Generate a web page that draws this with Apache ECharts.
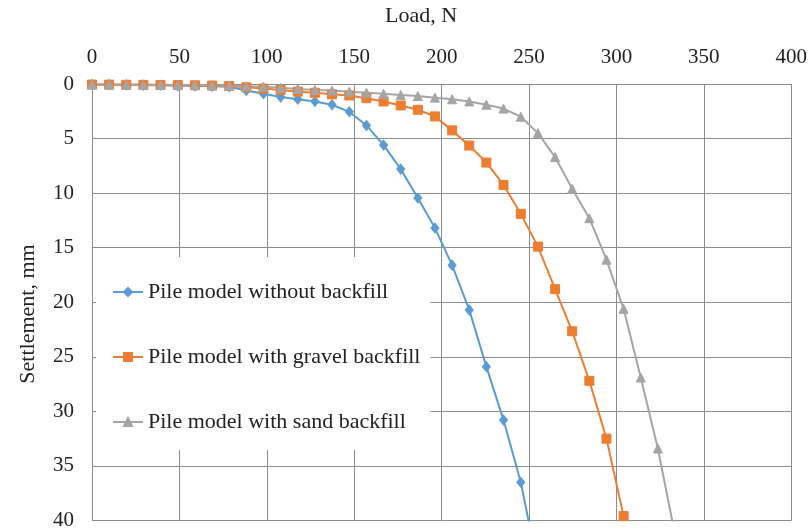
<!DOCTYPE html>
<html>
<head>
<meta charset="utf-8">
<script src="https://cdn.jsdelivr.net/npm/echarts@6/dist/echarts.min.js"></script>
<style>
  html, body { margin: 0; padding: 0; background: #fff; }
  #chart { width: 810px; height: 531px; }
</style>
</head>
<body>
<div id="chart"></div>
<script>
// Applied load at each loading step (N)
const loads = [0, 9.8, 19.6, 29.4, 39.2, 49.1, 58.9, 68.7, 78.5, 88.3, 98.1, 107.9,
  117.7, 127.5, 137.3, 147.2, 157.0, 166.8, 176.6, 186.4, 196.2, 206.0, 215.8,
  225.6, 235.4, 245.3, 255.1, 264.9, 274.7, 284.5, 294.3, 304.1, 313.9, 323.7, 333.5];

// Settlement (mm) measured at each load step
const settlementNoBackfill = [0.05, 0.06, 0.08, 0.1, 0.12, 0.15, 0.18, 0.2, 0.25, 0.6,
  0.9, 1.2, 1.4, 1.6, 1.9, 2.55, 3.8, 5.6, 7.8, 10.45, 13.2, 16.6, 20.7, 25.9, 30.8,
  36.5, 44.3];
const settlementGravel = [0.05, 0.06, 0.07, 0.08, 0.09, 0.1, 0.12, 0.14, 0.18, 0.3,
  0.42, 0.55, 0.7, 0.8, 0.95, 1.05, 1.3, 1.6, 1.97, 2.36, 2.97, 4.25, 5.64, 7.2, 9.25,
  11.9, 14.9, 18.8, 22.66, 27.2, 32.5, 39.6];
const settlementSand = [0.05, 0.05, 0.06, 0.07, 0.08, 0.09, 0.1, 0.12, 0.15, 0.2,
  0.25, 0.35, 0.45, 0.55, 0.6, 0.7, 0.8, 0.9, 1.0, 1.1, 1.25, 1.4, 1.6, 1.9, 2.25,
  3.0, 4.5, 6.7, 9.6, 12.3, 16.1, 20.6, 26.9, 33.4, 41.3];

const seriesNames = [
  'Pile model without backfill',
  'Pile model with gravel backfill',
  'Pile model with sand backfill'
];
const xTitle = 'Load, N';
const yTitle = 'Settlement, mm';

const FONT = 'Liberation Serif';
const TEXT = '#222';
const GRID = '#8c8c8c';

function pairs(ys) {
  return ys.map((y, i) => [loads[i], y]);
}

function lineSeries(name, ys, color, symbol, size) {
  return {
    name: name,
    type: 'line',
    data: pairs(ys),
    symbol: symbol,
    symbolSize: size,
    showAllSymbol: true,
    clip: true,
    lineStyle: { color: color, width: 2 },
    itemStyle: { color: color, borderColor: color, borderWidth: 1 },
    emphasis: { disabled: true },
    animation: false
  };
}

const chart = echarts.init(document.getElementById('chart'), null, { renderer: 'canvas' });
chart.setOption({
  backgroundColor: '#fff',
  animation: false,
  textStyle: { fontFamily: FONT, color: TEXT },
  title: {
    text: xTitle,
    left: 385,
    top: 5,
    padding: 0,
    textStyle: { fontFamily: FONT, fontSize: 22, fontWeight: 'normal', color: TEXT }
  },
  graphic: [{
    type: 'text',
    x: 28,
    y: 314,
    rotation: Math.PI / 2,
    style: {
      text: yTitle,
      font: '22px "Liberation Serif"',
      fill: TEXT,
      textAlign: 'center',
      textVerticalAlign: 'middle'
    }
  }],
  grid: { left: 92, right: 17, top: 84, bottom: 7, containLabel: false },
  xAxis: {
    type: 'value',
    position: 'top',
    min: 0,
    max: 400,
    interval: 50,
    axisLine: { show: true, lineStyle: { color: GRID, width: 1 } },
    axisTick: { show: false },
    axisLabel: { fontFamily: FONT, fontSize: 21, color: TEXT, margin: 16 },
    splitLine: { show: true, lineStyle: { color: GRID, width: 1 } }
  },
  yAxis: {
    type: 'value',
    inverse: true,
    min: 0,
    max: 40,
    interval: 5,
    axisLine: { show: true, lineStyle: { color: GRID, width: 1 } },
    axisTick: { show: false },
    axisLabel: { fontFamily: FONT, fontSize: 21, color: TEXT, margin: 18 },
    splitLine: { show: true, lineStyle: { color: GRID, width: 1 } }
  },
  legend: {
    orient: 'vertical',
    left: 96,
    top: 257,
    padding: [24, 10, 17, 16],
    backgroundColor: '#fff',
    itemWidth: 30,
    itemHeight: 10,
    itemGap: 43,
    textStyle: { fontFamily: FONT, fontSize: 22, color: TEXT },
    data: seriesNames
  },
  series: [
    lineSeries(seriesNames[0], settlementNoBackfill, '#5B9BD5', 'diamond', [8, 10]),
    lineSeries(seriesNames[1], settlementGravel, '#ED7D31', 'rect', 9),
    lineSeries(seriesNames[2], settlementSand, '#A5A5A5', 'triangle', 9)
  ]
});
</script>
</body>
</html>
